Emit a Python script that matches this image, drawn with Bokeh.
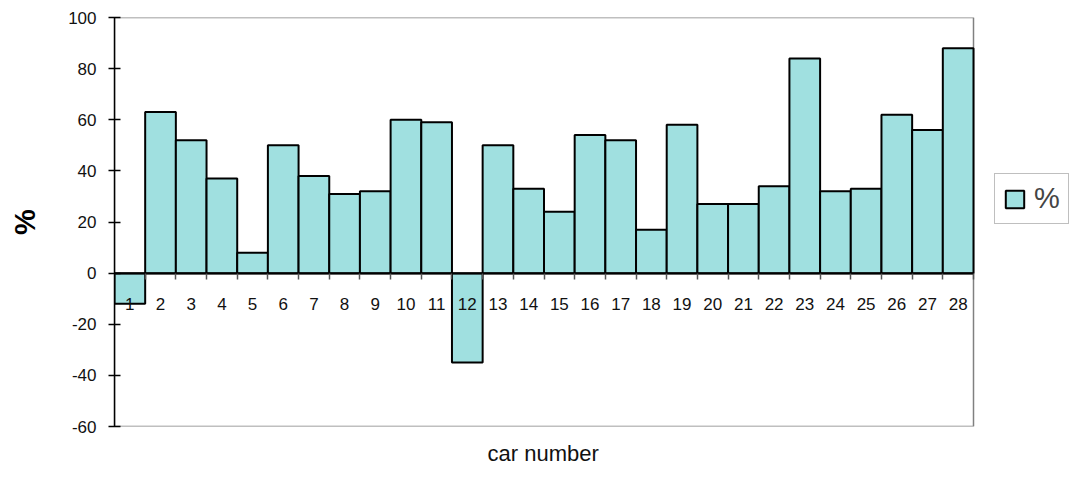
from bokeh.plotting import figure
from bokeh.models import (Range1d, FixedTicker, Legend, LegendItem, Title,
                          ColumnDataSource, BoxAnnotation)
from bokeh.embed import file_html
from bokeh.resources import INLINE

car_numbers = [1, 2, 3, 4, 5, 6, 7, 8, 9, 10, 11, 12, 13, 14,
               15, 16, 17, 18, 19, 20, 21, 22, 23, 24, 25, 26, 27, 28]
percent = [-12, 63, 52, 37, 8, 50, 38, 31, 32, 60, 59, -35, 50, 33,
           24, 54, 52, 17, 58, 27, 27, 34, 84, 32, 33, 62, 56, 88]
y_ticks = [-60, -40, -20, 0, 20, 40, 60, 80, 100]
series_name = "%"
x_title = "car number"

FONT = "Liberation Sans"

x_lo = car_numbers[0] - 0.5
x_hi = car_numbers[-1] + 0.5
y_lo, y_hi = y_ticks[0], y_ticks[-1]
plot_w = 955                     # frame pixels (plot area + legend strip)
area_w = 859                     # pixels of the bordered plot area
x_ext = x_lo + (x_hi - x_lo) * plot_w / area_w

src = ColumnDataSource(dict(x=car_numbers, top=percent))

p = figure(width=1069, height=478, output_backend="svg", toolbar_location=None,
           x_range=Range1d(x_lo, x_ext), y_range=Range1d(y_lo, y_hi),
           min_border_left=114, min_border_right=0, min_border_top=17,
           min_border_bottom=51)
p.background_fill_color = "white"
p.border_fill_color = "white"
p.outline_line_color = None
p.grid.visible = False

# grey border of the plot area
p.add_layout(BoxAnnotation(left=x_lo, right=x_hi, bottom=y_lo, top=y_hi,
                           fill_alpha=0, line_color="#808080", line_alpha=1.0,
                           line_width=1.5, level="underlay"))

r = p.vbar(x="x", top="top", bottom=0, width=1.0, source=src,
           fill_color="#A0E0E0", line_color="black", line_width=2)

# y axis
ya = p.yaxis[0]
ya.ticker = FixedTicker(ticks=y_ticks)
ya.major_label_overrides = {t: str(t) for t in y_ticks}
ya.axis_line_color = "black"
ya.axis_line_width = 1.5
ya.major_tick_in = 6
ya.major_tick_out = 6
ya.major_tick_line_width = 1.5
ya.minor_tick_line_color = None
ya.major_label_text_font = FONT
ya.major_label_text_font_size = "17px"
ya.major_label_text_color = "#111111"
ya.major_label_standoff = 12
ya.axis_label = "%"
ya.axis_label_text_font = FONT
ya.axis_label_text_font_size = "29px"
ya.axis_label_text_font_style = "bold"
ya.axis_label_text_color = "black"
ya.axis_label_standoff = 24

# x axis placed at zero
xa = p.xaxis[0]
xa.fixed_location = 0
xa.bounds = (x_lo, x_hi)
boundaries = [c - 0.5 for c in car_numbers] + [x_hi]
xa.ticker = FixedTicker(ticks=car_numbers, minor_ticks=boundaries)
xa.axis_line_color = "black"
xa.axis_line_width = 2
xa.major_tick_line_color = None
xa.major_tick_in = 0
xa.major_tick_out = 0
xa.minor_tick_in = 0
xa.minor_tick_out = 6
xa.minor_tick_line_color = "#555555"
xa.minor_tick_line_width = 1.5
xa.major_label_text_font = FONT
xa.major_label_text_font_size = "17px"
xa.major_label_text_color = "#111111"
xa.major_label_standoff = 19

# x title centred under the bordered plot area
p.add_layout(Title(text=x_title, align="left", offset=373,
                   vertical_align="bottom", standoff=25,
                   text_font=FONT, text_font_size="22px",
                   text_font_style="normal", text_color="#111111"), "below")

legend = Legend(items=[LegendItem(label=series_name, renderers=[r])],
                location=(880, 202), orientation="vertical",
                label_text_font=FONT, label_text_font_size="29px",
                glyph_width=23, glyph_height=22, label_standoff=8,
                padding=8, spacing=0, margin=0,
                border_line_color="#808080", border_line_width=1,
                background_fill_alpha=1.0)
p.add_layout(legend, "center")

open("out.html", "w").write(file_html(p, INLINE))
